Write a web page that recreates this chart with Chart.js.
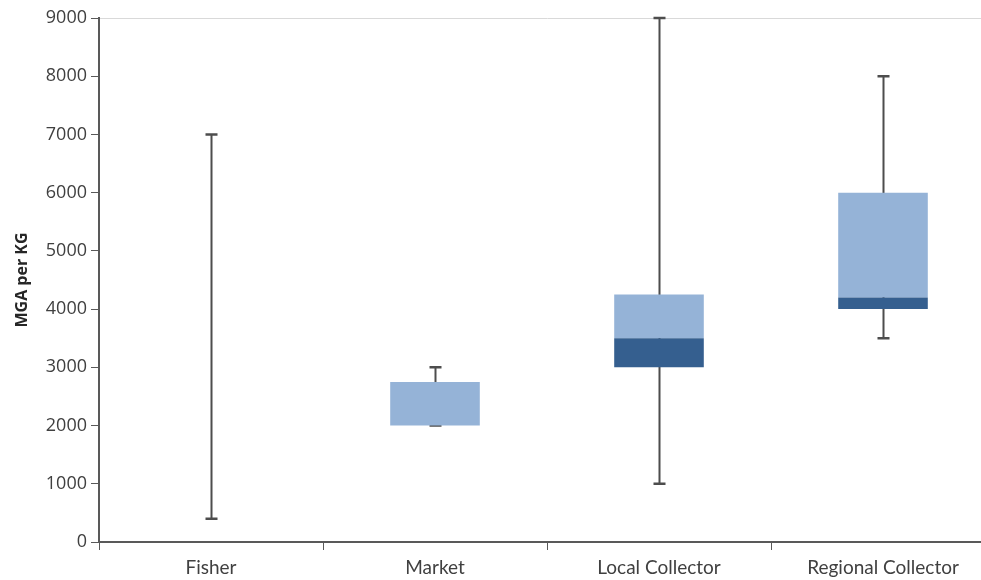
<!DOCTYPE html>
<html lang="en">
<head>
  <meta charset="UTF-8">
  <title>MGA per KG</title>
  <script src="https://cdn.jsdelivr.net/npm/chart.js@4"></script>
  <style>
    html, body { margin: 0; padding: 0; background: #fff; overflow: hidden; }
    #wrap { width: 981px; height: 580px; overflow: hidden; }
  </style>
</head>
<body>
  <div id="wrap"><canvas id="boxChart" width="1000" height="580"></canvas></div>

  <script>
    // box plot values
    const categories = ["Fisher", "Market", "Local Collector", "Regional Collector"];
    const minVals    = [400, 2000, 1000, 3500];
    const q1Vals     = [2000, 2000, 3000, 4000];
    const medianVals = [2000, 2000, 3500, 4200];
    const q3Vals     = [2000, 2750, 4250, 6000];
    const maxVals    = [7000, 3000, 9000, 8000];
    const yTicks     = [0, 1000, 2000, 3000, 4000, 5000, 6000, 7000, 8000, 9000];

    const axisColor = "#595959";
    const textColor = "#404040";

    // whiskers drawn behind the boxes, placed with the chart's scales
    const whiskers = {
      id: "whiskers",
      beforeDatasetsDraw(chart) {
        const { ctx, scales: { x, y } } = chart;
        ctx.save();
        ctx.strokeStyle = "#4d4d4d";
        categories.forEach((c, i) => {
          const cx = Math.round(x.getPixelForValue(i)) + 0.5;
          const top = y.getPixelForValue(maxVals[i]);
          const bot = y.getPixelForValue(minVals[i]);
          ctx.lineWidth = 2;
          ctx.beginPath();
          ctx.moveTo(cx, top);
          ctx.lineTo(cx, bot);
          ctx.stroke();
          ctx.lineWidth = 2.5;
          ctx.beginPath();
          ctx.moveTo(cx - 6, top);
          ctx.lineTo(cx + 6, top);
          ctx.moveTo(cx - 6, bot);
          ctx.lineTo(cx + 6, bot);
          ctx.stroke();
        });
        ctx.restore();
      }
    };

    new Chart(document.getElementById("boxChart"), {
      type: "bar",
      data: {
        labels: categories,
        datasets: [
          {
            label: "Q1 to median",
            data: categories.map((c, i) => [q1Vals[i], medianVals[i]]),
            backgroundColor: "#355f8f",
            grouped: false
          },
          {
            label: "median to Q3",
            data: categories.map((c, i) => [medianVals[i], q3Vals[i]]),
            backgroundColor: "#95b3d7",
            grouped: false
          }
        ]
      },
      options: {
        responsive: false,
        animation: false,
        layout: { padding: { top: 18, right: 5, left: 0, bottom: 0 } },
        datasets: { bar: { categoryPercentage: 1, barPercentage: 0.4 } },
        plugins: {
          legend: { display: false },
          tooltip: { enabled: false }
        },
        scales: {
          x: {
            offset: true,
            grid: {
              offset: true,
              drawOnChartArea: false,
              color: axisColor,
              tickLength: 8
            },
            border: { color: axisColor, width: 2 },
            ticks: {
              color: textColor,
              font: { family: "Lato", size: 19 },
              padding: 6
            },
            afterFit(scale) { scale.height = 38; }
          },
          y: {
            min: 0,
            max: 9000,
            afterBuildTicks(scale) {
              scale.ticks = yTicks.map(v => ({ value: v }));
            },
            grid: {
              color: ctx => ctx.tick && ctx.tick.value === 9000 ? "#d9d9d9" : "rgba(0,0,0,0)",
              tickColor: axisColor,
              tickLength: 8
            },
            border: { color: axisColor, width: 2 },
            ticks: {
              color: textColor,
              font: { family: "Open Sans", size: 18 },
              padding: 4,
              callback: v => String(v)
            },
            title: {
              display: true,
              text: "MGA per KG",
              color: "#262626",
              font: { family: "Open Sans", size: 16, weight: "bold" },
              padding: { top: 13, bottom: 0 }
            },
            afterFit(scale) { scale.width = 99; }
          }
        }
      },
      plugins: [whiskers]
    });
  </script>
</body>
</html>
